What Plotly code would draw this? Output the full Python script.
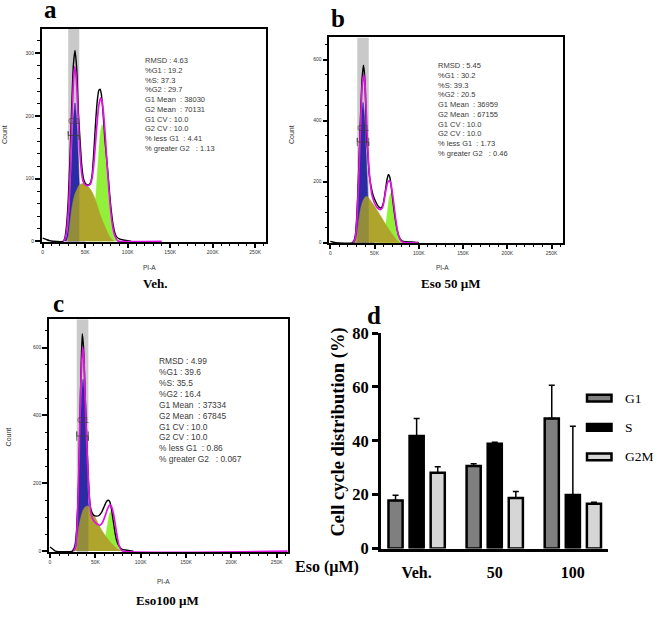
import plotly.graph_objects as go

W, H = 659, 617
def PX(px): return px / W
def PY(py): return 1 - py / H

# ---------------- DATA ----------------
# x values in thousands (K) of PI-A, y values = Count
# Panel a : Veh.
a_raw_x = [0, 4, 8, 12, 24, 26, 28, 30, 32, 34, 36, 38, 40, 42, 44, 46, 48, 50, 53, 56, 58, 60, 62, 64, 66, 67.5, 69, 71, 73, 75, 77, 79, 81, 83, 85, 87, 90, 95, 100, 104]
a_raw_y = [5, 3, 1, 0, 0, 5, 25, 65, 130, 210, 280, 305, 275, 205, 160, 120, 100, 93, 90, 93, 105, 140, 185, 222, 241, 243, 235, 205, 165, 135, 105, 72, 45, 25, 13, 7, 4, 2, 1, 0]
a_fit_x = [24, 26, 28, 30, 32, 34, 36, 37.6, 39.5, 41.5, 43.5, 45.5, 47.5, 50, 53, 56, 58, 60, 62, 64, 66, 68.2, 70, 72, 74, 76, 78, 80, 82, 84, 86, 88, 90, 140]
a_fit_y = [0, 3, 15, 45, 100, 180, 250, 279, 260, 205, 150, 112, 96, 90, 89, 91, 100, 122, 155, 190, 217, 229, 222, 198, 160, 118, 80, 48, 26, 12, 5, 1, 0, 0]
a_g1_x = [26, 28, 30, 32, 34, 36, 38, 40, 42, 44, 46, 48, 50]
a_g1_y = [2, 7, 24, 64, 127, 192, 221, 192, 127, 64, 24, 7, 2]
a_s_x = [28, 30, 32, 34, 36, 38, 40, 42, 44, 46, 48, 50, 52, 55, 58, 61, 64, 67, 70, 73, 76, 79, 82, 84]
a_s_y = [0, 8, 28, 50, 66, 76, 82, 88, 91, 92, 92, 91, 89, 85, 79, 70, 58, 45, 34, 24, 15, 7, 2, 0]
a_g2_x = [54, 56, 58, 60, 62, 64, 66, 68, 70, 72, 74, 76, 78, 80, 82, 84, 86]
a_g2_y = [2, 7, 17, 35, 65, 102, 143, 175, 186, 175, 143, 102, 65, 35, 17, 7, 2]
a_stats = ["RMSD : 4.63", "%G1 : 19.2", "%S: 37.3", "%G2 : 29.7", "G1 Mean  : 38030", "G2 Mean  : 70131",
           "G1 CV : 10.0", "G2 CV : 10.0", "% less G1  : 4.41", "% greater G2   : 1.13"]

# Panel b : Eso 50 uM
b_raw_x = [0, 3, 6, 26, 28, 30, 32, 34, 36, 37.5, 39, 41, 42.5, 44, 46, 48, 50, 53, 56, 58, 60, 62, 64, 65.7, 67.5, 69, 71, 73, 75, 77, 79, 81, 85, 92, 100]
b_raw_y = [4, 2, 0, 0, 15, 90, 230, 400, 540, 582, 540, 350, 290, 225, 185, 160, 143, 125, 114, 115, 130, 165, 205, 224, 212, 180, 130, 85, 50, 25, 12, 6, 3, 2, 0]
b_fit_x = [26, 28, 30, 32, 34, 36, 37.8, 39.5, 41, 43, 45, 47, 50, 53, 56.6, 59, 61, 63, 65, 67.2, 69, 71, 73, 75, 77, 79, 81, 84, 99]
b_fit_y = [0, 10, 70, 200, 370, 510, 552, 510, 400, 275, 200, 158, 130, 115, 108, 115, 140, 175, 198, 203, 185, 145, 98, 55, 25, 10, 3, 0, 0]
b_g1_x = [25, 27, 29, 31, 33, 35, 37, 39, 41, 43, 45, 47, 49]
b_g1_y = [2, 12, 44, 123, 256, 397, 460, 397, 256, 123, 44, 12, 2]
b_s_x = [27, 29, 31, 33, 35, 37, 39, 41, 43, 45, 48, 51, 54, 57, 60, 63, 66, 69, 72, 75, 77, 79]
b_s_y = [0, 10, 45, 90, 120, 138, 148, 152, 148, 140, 128, 115, 101, 87, 73, 58, 44, 32, 20, 9, 3, 0]
b_g2_x = [56.5, 58.5, 60.5, 62.5, 64.5, 66.5, 68.5, 70.5, 72.5, 74.5, 76.5, 78.5, 80.5]
b_g2_y = [2, 7, 22, 53, 99, 144, 163, 144, 99, 53, 22, 7, 2]
b_stats = ["RMSD : 5.45", "%G1 : 30.2", "%S: 39.3", "%G2 : 20.5", "G1 Mean  : 36959", "G2 Mean  : 67155",
           "G1 CV : 10.0", "G2 CV : 10.0", "% less G1  : 1.73", "% greater G2   : 0.46"]

# Panel c : Eso 100 uM
c_raw_x = [0, 3, 6, 25, 28, 30, 31.5, 33, 34.5, 35.6, 37, 38.5, 40.4, 42, 44, 46, 48, 51.5, 54, 57, 60, 62.5, 64.3, 66, 68, 70, 72, 73.5, 76, 79, 83, 88, 92]
c_raw_y = [12, 6, 0, 0, 15, 95, 200, 388, 560, 641, 600, 480, 341, 230, 141, 115, 106, 103, 105, 115, 133, 147, 150, 145, 120, 85, 50, 31, 15, 6, 3, 1, 0]
c_fit_x = [26, 28, 30, 32, 34, 36, 37.5, 39, 41, 43, 45, 47, 50, 53, 55, 58, 61, 64, 66.2, 68, 70, 72, 74, 76, 78, 80, 262]
c_fit_y = [0, 10, 80, 260, 490, 603, 560, 430, 290, 175, 115, 95, 84, 78, 76, 85, 105, 128, 136, 130, 110, 78, 45, 18, 5, 0, 0]
c_g1_x = [24.5, 26.5, 28.5, 30.5, 32.5, 34.5, 36.5, 38.5, 40.5, 42.5, 44.5, 46.5, 48.5]
c_g1_y = [2, 12, 46, 131, 278, 436, 507, 436, 278, 131, 46, 12, 2]
c_s_x = [26, 28, 30, 32, 34, 36, 38, 40, 41.5, 43, 46, 49, 52, 55, 58, 61, 64, 67, 70, 73, 76, 78]
c_s_y = [0, 12, 40, 75, 100, 118, 128, 132, 133, 130, 118, 104, 88, 71, 58, 46, 35, 25, 17, 9, 3, 0]
c_g2_x = [55, 57, 59, 61, 63, 65, 67, 69, 71, 73, 75, 77, 79]
c_g2_y = [1, 5, 16, 38, 71, 103, 117, 103, 71, 38, 16, 5, 1]
c_stats = ["RMSD : 4.99", "%G1 : 39.6", "%S: 35.5", "%G2 : 16.4", "G1 Mean  : 37334", "G2 Mean  : 67845",
           "G1 CV : 10.0", "G2 CV : 10.0", "% less G1  : 0.86", "% greater G2   : 0.067"]

# G1 gates (K) and marker level (count)
gate_a = [30, 43]; gate_b = [30.5, 43.5]; gate_c = [29.5, 42.3]
gate_lvl = [169, 330, 339]

x_tickvals = [0, 50, 100, 150, 200, 250]
x_ticktext = ["0", "50K", "100K", "150K", "200K", "250K"]

# Panel d : bar chart
groups = ["Veh.", "50", "100"]
G1_mean = [17.8, 30.6, 48.3]
G1_err = [2.0, 0.9, 12.3]
S_mean = [41.8, 38.9, 19.9]
S_err = [6.5, 0.6, 25.5]
G2M_mean = [28.1, 18.8, 16.6]
G2M_err = [2.3, 2.4, 0.6]
phase_names = ["G1", "S", "G2M"]
phase_colors = ["#7f7f7f", "#000000", "#d6d6d6"]

# ---------------- FIGURE ----------------
fig = go.Figure()
ann = []

BLUE = "#1414c8"
OLIVE = "#afa42c"
GREEN = "#92f03a"
MAGENTA = "#e014e0"
SERIF = "Liberation Serif, Times New Roman, serif"
SANS = "Liberation Sans, Arial, sans-serif"

panels = [
    dict(xa="x", ya="y", raw=(a_raw_x, a_raw_y), fit=(a_fit_x, a_fit_y), g1=(a_g1_x, a_g1_y),
         s=(a_s_x, a_s_y), g2=(a_g2_x, a_g2_y), gate=gate_a, lvl=gate_lvl[0],
         xr=[-1.2, 262.4], yr=[-1, 339], ydt=100, ymin=20,
         dom_x=[PX(41.7), PX(265.7)], dom_y=[PY(240.3), PY(20.7)]),
    dict(xa="x2", ya="y2", raw=(b_raw_x, b_raw_y), fit=(b_fit_x, b_fit_y), g1=(b_g1_x, b_g1_y),
         s=(b_s_x, b_s_y), g2=(b_g2_x, b_g2_y), gate=gate_b, lvl=gate_lvl[1],
         xr=[-1.1, 263.3], yr=[-2, 673], ydt=200, ymin=50,
         dom_x=[PX(329.3), PX(563.3)], dom_y=[PY(241.7), PY(29.3)]),
    dict(xa="x3", ya="y3", raw=(c_raw_x, c_raw_y), fit=(c_fit_x, c_fit_y), g1=(c_g1_x, c_g1_y),
         s=(c_s_x, c_s_y), g2=(c_g2_x, c_g2_y), gate=gate_c, lvl=gate_lvl[2],
         xr=[-1.1, 262.8], yr=[-4, 684], ydt=200, ymin=50,
         dom_x=[PX(49), PX(288.3)], dom_y=[PY(560.7), PY(320)]),
]

for i, p in enumerate(panels):
    common = dict(xaxis=p["xa"], yaxis=p["ya"], showlegend=False, hoverinfo="skip", mode="lines")
    fig.add_trace(go.Scatter(x=p["g1"][0], y=p["g1"][1], fill="tozeroy", fillcolor=BLUE,
                             line=dict(color=BLUE, width=0.5, shape="spline", smoothing=0.8), **common))
    fig.add_trace(go.Scatter(x=p["g2"][0], y=p["g2"][1], fill="tozeroy", fillcolor=GREEN,
                             line=dict(color=GREEN, width=0.5, shape="spline", smoothing=0.8), **common))
    fig.add_trace(go.Scatter(x=p["s"][0], y=p["s"][1], fill="tozeroy", fillcolor=OLIVE,
                             line=dict(color=OLIVE, width=0.5, shape="spline", smoothing=0.8), **common))
    lo, hi = p["gate"]
    y0, y1 = p["yr"]
    fig.add_trace(go.Scatter(x=[lo, lo, hi, hi, lo], y=[y0, y1, y1, y0, y0], fill="toself",
                             fillcolor="rgba(90,90,90,0.33)", line=dict(width=0), **common))
    fig.add_trace(go.Scatter(x=p["raw"][0], y=p["raw"][1],
                             line=dict(color="black", width=1.4, shape="spline", smoothing=0.6), **common))
    fig.add_trace(go.Scatter(x=p["fit"][0], y=p["fit"][1],
                             line=dict(color=MAGENTA, width=1.7, shape="spline", smoothing=0.6), **common))
    # gate marker bracket
    tk = y1 * 0.02
    fig.add_trace(go.Scatter(x=[lo, lo, lo, hi, hi, hi],
                             y=[p["lvl"] - tk, p["lvl"] + tk, p["lvl"], p["lvl"], p["lvl"] - tk, p["lvl"] + tk],
                             line=dict(color="rgba(60,60,60,0.75)", width=1), **common))
    ann.append(dict(x=(lo + hi) / 2, y=p["lvl"] + y1 * 0.07, xref=p["xa"], yref=p["ya"], text="G1",
                    showarrow=False, font=dict(family=SANS, size=9, color="rgba(60,60,60,0.75)")))

    axx = dict(domain=p["dom_x"], range=p["xr"], showline=True, mirror=True, linecolor="black", linewidth=1.5,
               showgrid=False, zeroline=False, ticks="outside", ticklen=4, tickwidth=1.5, tickcolor="black",
               tickvals=x_tickvals, ticktext=x_ticktext, tickfont=dict(family=SANS, size=5, color="#333"),
               minor=dict(ticks="outside", ticklen=2, tickwidth=0.8, tickcolor="black", dtick=10, tick0=0),
               anchor=p["ya"], fixedrange=True)
    axy = dict(domain=p["dom_y"], range=p["yr"], showline=True, mirror=True, linecolor="black", linewidth=1.5,
               showgrid=False, zeroline=False, ticks="outside", ticklen=5, tickwidth=1.8, tickcolor="black",
               dtick=p["ydt"], tick0=0, tickfont=dict(family=SANS, size=5, color="#333"),
               minor=dict(ticks="outside", ticklen=2.5, tickwidth=0.8, tickcolor="black", dtick=p["ymin"], tick0=0),
               anchor=p["xa"], fixedrange=True)
    sfx = "" if i == 0 else str(i + 1)
    fig.layout["xaxis" + sfx] = axx
    fig.layout["yaxis" + sfx] = axy

# ---- bar chart (panel d) ----
for name, col, m, e in zip(phase_names, phase_colors, [G1_mean, S_mean, G2M_mean], [G1_err, S_err, G2M_err]):
    fig.add_trace(go.Bar(x=groups, y=m, name=name, marker=dict(color=col, line=dict(color="black", width=2.5)),
                         error_y=dict(type="data", array=e, arrayminus=[0] * len(e), symmetric=False,
                                      color="black", thickness=1.5, width=3),
                         xaxis="x4", yaxis="y4", showlegend=False, hoverinfo="skip"))

fig.update_layout(
    xaxis4=dict(domain=[PX(380.7), PX(608)], range=[-0.46, 2.45], type="category", anchor="y4",
                showline=True, linecolor="black", linewidth=2.5, ticks="", showgrid=False,
                tickfont=dict(family=SERIF, size=16, color="black", weight="bold"), ticklabelstandoff=7),
    yaxis4=dict(domain=[PY(556.7), PY(334.3)], range=[0, 80], anchor="x4", showline=True, linecolor="black",
                linewidth=2.5, ticks="outside", ticklen=6, tickwidth=2.5, tickcolor="black", dtick=20,
                showgrid=False, zeroline=False,
                tickfont=dict(family=SERIF, size=16.5, color="black", weight="bold")),
    barmode="group", bargap=0.19, bargroupgap=0.33,
)

# ---------------- annotations ----------------
def txt(x, y, t, size, family=SERIF, bold=False, color="black", angle=0, xa="center", ya="middle"):
    ann.append(dict(x=PX(x), y=PY(y), xref="paper", yref="paper", text=t, showarrow=False, textangle=angle,
                    xanchor=xa, yanchor=ya, font=dict(family=family, size=size, color=color,
                                                      weight="bold" if bold else "normal")))

# panel letters
txt(50, 1, "a", 25, bold=True)
txt(338, 10, "b", 25, bold=True)
txt(58, 304, "c", 25, bold=True)
txt(374, 316, "d", 25, bold=True)

# histogram axis titles
txt(5, 130, "Count", 7, family=SANS, color="#333", angle=-90)
txt(292, 130, "Count", 7, family=SANS, color="#333", angle=-90)
txt(8, 442, "Count", 7, family=SANS, color="#333", angle=-90)
txt(149, 267, "PI-A", 6.5, family=SANS, color="#333")
txt(442, 267, "PI-A", 6.5, family=SANS, color="#333")
txt(163, 591, "PI-A", 6.5, family=SANS, color="#333")

# sample titles
txt(155, 283, "Veh.", 13, bold=True)
txt(451, 283, "Eso 50 µM", 13, bold=True)
txt(167, 610, "Eso100 µM", 13, bold=True)

# stats blocks
def stats(x, ytop, lines, size):
    t = "<br>".join(s.replace("  ", "\u00a0\u00a0") for s in lines)
    ann.append(dict(x=PX(x), y=PY(ytop), xref="paper", yref="paper", text=t, showarrow=False, align="left",
                    xanchor="left", yanchor="top", font=dict(family=SANS, size=size, color="#3a3a3a")))
stats(143, 46, a_stats, 7.5)
stats(436, 52, b_stats, 7.5)
stats(157, 356, c_stats, 8.4)

# bar chart texts
txt(339, 437, "Cell cycle distribution (%)", 18.5, bold=True, angle=-90)
txt(327, 576, "Eso (µM)", 16, bold=True)

# legend (manual)
leg_y = [401.5, 431.7, 462]
for name, col, yy in zip(phase_names, phase_colors, leg_y):
    fig.add_shape(type="rect", xref="paper", yref="paper", x0=PX(587), x1=PX(611.5), y0=PY(yy + 3.5), y1=PY(yy - 3.5),
                  fillcolor=col, line=dict(color="black", width=2.5))
    txt(623, yy, name, 13.5, xa="left")

# significance stars
ann.append(dict(x="50", y=S_mean[1] + S_err[1], xref="x4", yref="y4", text="*", showarrow=False,
                yanchor="bottom", yshift=-6, font=dict(family=SERIF, size=19, color="black")))
ann.append(dict(x="100", y=G1_mean[2] + G1_err[2], xref="x4", yref="y4", text="*", showarrow=False,
                yanchor="bottom", xshift=-21, yshift=-7, font=dict(family=SERIF, size=19, color="black")))

fig.layout.annotations = ann
fig.update_layout(width=W, height=H, margin=dict(l=0, r=0, t=0, b=0),
                  paper_bgcolor="white", plot_bgcolor="white")

fig.write_html("out.html", config={"displayModeBar": False})
